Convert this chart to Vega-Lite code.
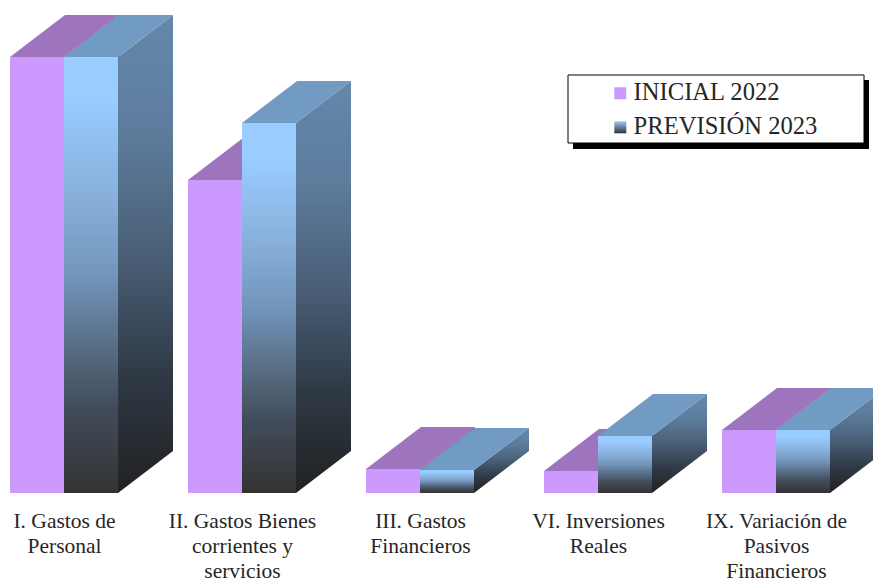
{
  "$schema": "https://vega.github.io/schema/vega-lite/v6.json",
  "width": 873,
  "height": 493,
  "autosize": "none",
  "padding": {"left": 0, "top": 0, "right": 0, "bottom": 86},
  "background": "white",
  "config": {"view": {"stroke": null}},
  "datasets": {
    "gastos": [
      {"i": 0, "serie": "INICIAL 2022", "valor": 436},
      {"i": 0, "serie": "PREVISIÓN 2023", "valor": 436},
      {"i": 1, "serie": "INICIAL 2022", "valor": 313},
      {"i": 1, "serie": "PREVISIÓN 2023", "valor": 370},
      {"i": 2, "serie": "INICIAL 2022", "valor": 24},
      {"i": 2, "serie": "PREVISIÓN 2023", "valor": 23},
      {"i": 3, "serie": "INICIAL 2022", "valor": 22},
      {"i": 3, "serie": "PREVISIÓN 2023", "valor": 57},
      {"i": 4, "serie": "INICIAL 2022", "valor": 63},
      {"i": 4, "serie": "PREVISIÓN 2023", "valor": 63}
    ]
  },
  "data": {"name": "gastos"},
  "transform": [
    {"calculate": "[0,1]", "as": "v"},
    {"flatten": ["v"]},
    {"calculate": "datum.i + (datum.serie == 'INICIAL 2022' ? -0.30337 : 0) + datum.v * 0.30899", "as": "xa"},
    {"calculate": "datum.xa + 0.30337", "as": "xb"},
    {"calculate": "datum.valor + datum.v * 42", "as": "ya"},
    {"calculate": "datum.v * 42", "as": "yb"}
  ],
  "encoding": {
    "x": {
      "field": "xa", "type": "quantitative", "title": null,
      "scale": {"domain": [-0.35955, 4.54494], "nice": false, "zero": false},
      "axis": {
        "values": [0, 1, 2, 3, 4],
        "labelExpr": "[['I. Gastos de','Personal'],['II. Gastos Bienes','corrientes y','servicios'],['III.  Gastos','Financieros'],['VI. Inversiones','Reales'],['IX. Variación de','Pasivos','Financieros']][datum.value]",
        "domain": false, "ticks": false, "grid": false,
        "labelFont": "Liberation Serif", "labelFontSize": 21.5, "labelColor": "#262626",
        "labelLineHeight": 25, "labelPadding": 17, "labelAngle": 0,
        "labelBound": false, "labelFlush": false, "labelOverlap": false, "labelLimit": 0
      }
    },
    "y": {
      "field": "ya", "type": "quantitative", "title": null, "stack": null,
      "scale": {"domain": [0, 493], "nice": false},
      "axis": null
    }
  },
  "layer": [
    {
      "transform": [
        {"filter": "datum.i == 0 && datum.v == 0 && datum.serie == 'INICIAL 2022'"},
        {"calculate": "2.8596", "as": "xa"},
        {"calculate": "4.5225", "as": "xb"},
        {"calculate": "413", "as": "ya"},
        {"calculate": "344", "as": "yb"}
      ],
      "mark": {"type": "rect", "color": "#000000"},
      "encoding": {"x2": {"field": "xb"}, "y2": {"field": "yb"}}
    },
    {
      "transform": [
        {"filter": "datum.i == 0 && datum.v == 0 && datum.serie == 'INICIAL 2022'"},
        {"calculate": "2.8315", "as": "xa"},
        {"calculate": "4.4944", "as": "xb"},
        {"calculate": "418", "as": "ya"},
        {"calculate": "350", "as": "yb"}
      ],
      "mark": {"type": "rect", "color": "#ffffff", "stroke": "#000000", "strokeWidth": 1},
      "encoding": {"x2": {"field": "xb"}, "y2": {"field": "yb"}}
    },
    {
      "transform": [{"filter": "datum.serie == 'INICIAL 2022'"}],
      "mark": {"type": "area", "orient": "vertical", "color": "#7B5E9C"},
      "encoding": {"x": {"field": "xb", "type": "quantitative"}, "y2": {"field": "yb"}, "detail": {"field": "i"}}
    },
    {
      "transform": [{"filter": "datum.serie == 'INICIAL 2022'"}],
      "mark": {"type": "area", "orient": "horizontal", "color": "#9D74BD"},
      "encoding": {"x2": {"field": "xb"}, "detail": {"field": "i"}}
    },
    {
      "transform": [{"filter": "datum.serie == 'INICIAL 2022' && datum.v == 0"}],
      "mark": {"type": "rect", "color": "#CC99FF"},
      "encoding": {
        "x2": {"field": "xb"},
        "y2": {"field": "yb"},
        "opacity": {
          "field": "serie", "type": "nominal",
          "scale": {"domain": ["INICIAL 2022", "PREVISIÓN 2023"], "range": [1, 1]},
          "legend": {
            "orient": "none", "legendX": 608, "legendY": 81, "title": null, "padding": 0,
            "symbolType": "square", "symbolSize": 144, "symbolStrokeWidth": 0,
            "labelFont": "Liberation Serif", "labelFontSize": 24.6, "labelColor": "#262626",
            "labelOffset": 1, "rowPadding": 9, "labelLimit": 0,
            "encoding": {"symbols": {"fill": {"value": {"expr": "datum.value == 'PREVISIÓN 2023' ? {gradient:'linear',x1:0,y1:0,x2:0,y2:1,stops:[{offset:0,color:'#99CCFF'},{offset:1,color:'#333333'}]} : '#CC99FF'"}}}}
          }
        }
      }
    },
    {
      "transform": [{"filter": "datum.serie == 'PREVISIÓN 2023'"}],
      "mark": {"type": "area", "orient": "vertical", "color": {"gradient": "linear", "x1": 0, "y1": 0, "x2": 0, "y2": 1, "stops": [{"offset": 0, "color": "#6488AB"}, {"offset": 0.25, "color": "#5C7C9C"}, {"offset": 0.5, "color": "#4A5F77"}, {"offset": 0.75, "color": "#2F3A46"}, {"offset": 1, "color": "#212121"}]}},
      "encoding": {"x": {"field": "xb", "type": "quantitative"}, "y2": {"field": "yb"}, "detail": {"field": "i"}}
    },
    {
      "transform": [{"filter": "datum.serie == 'PREVISIÓN 2023'"}],
      "mark": {"type": "area", "orient": "horizontal", "color": "#729BC4"},
      "encoding": {"x2": {"field": "xb"}, "detail": {"field": "i"}}
    },
    {
      "transform": [{"filter": "datum.serie == 'PREVISIÓN 2023' && datum.v == 0"}],
      "mark": {"type": "rect", "color": {"gradient": "linear", "x1": 0, "y1": 0, "x2": 0, "y2": 1, "stops": [{"offset": 0, "color": "#99CCFF"}, {"offset": 0.1, "color": "#99CCFF"}, {"offset": 0.35, "color": "#85ACD6"}, {"offset": 0.5, "color": "#7295BA"}, {"offset": 0.65, "color": "#5A7189"}, {"offset": 0.8, "color": "#424D5B"}, {"offset": 1, "color": "#333333"}]}},
      "encoding": {"x2": {"field": "xb"}, "y2": {"field": "yb"}}
    }
  ]
}
